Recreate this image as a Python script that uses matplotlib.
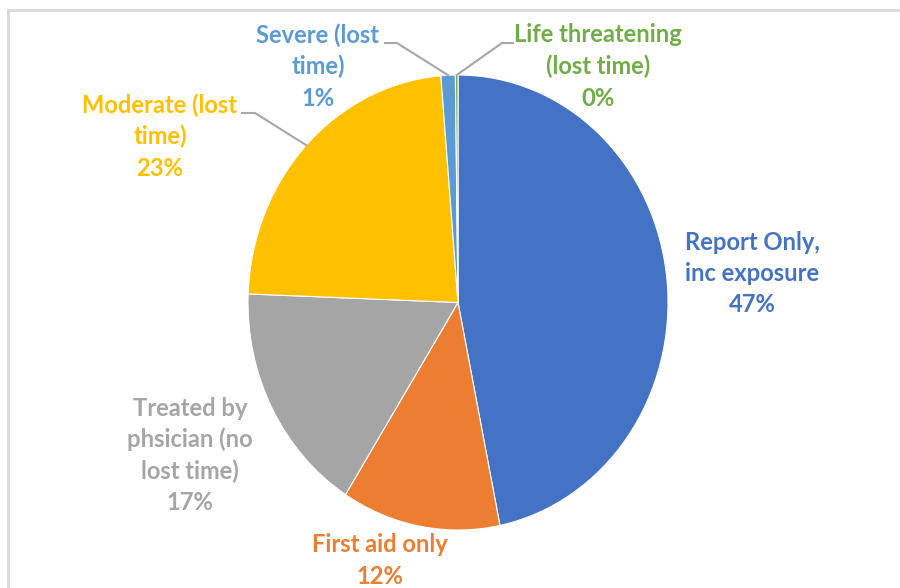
import numpy as np
import matplotlib
matplotlib.use('Agg')
import matplotlib.pyplot as plt
from matplotlib.lines import Line2D
from matplotlib.textpath import TextPath
from matplotlib.font_manager import FontProperties

plt.rcParams['font.family'] = ['Lato', 'DejaVu Sans']

# slice data (clockwise from 12 o'clock)
labels = ['Report Only,\ninc exposure', 'First aid only', 'Treated by\nphsician (no\nlost time)',
          'Moderate (lost\ntime)', 'Severe (lost\ntime)', 'Life threatening\n(lost time)']
shares = [46.8, 12.2, 16.6, 23.1, 1.1, 0.2]
colors = ['#4472C4', '#ED7D31', '#A5A5A5', '#FFC000', '#5B9BD5', '#70AD47']

# label centres in pixels (x, y of first line) and leader elbows
label_pos = [(752, 242), (380, 545), (190, 408), (160, 105), (318, 35), (598, 35)]
leaders = {3: [(242, 113), (255, 113)], 4: [(385, 43), (397, 43)], 5: [(513, 43), (502, 43)]}

W, H = 900, 588
fig = plt.figure(figsize=(9, 5.88), dpi=100)
fig.patch.set_facecolor('white')

# pick a font size so "Moderate (lost" is ~152 px wide like the original
fp = FontProperties(family='Lato', weight='bold', size=10)
w10 = TextPath((0, 0), 'Moderate (lost', prop=fp).get_extents().width * 100 / 72
fsize = 10 * 154 / w10

# chart frame
fig.add_artist(Line2D([8 / W, 1], [1 - 10 / H, 1 - 10 / H], color='#D9D9D9', lw=2))
fig.add_artist(Line2D([8 / W, 8 / W], [0, 1 - 10 / H], color='#D9D9D9', lw=2))

ax = fig.add_axes([248 / W, 1 - 530 / H, 420 / W, 455 / H])
wedges, _ = ax.pie(shares, colors=colors, startangle=90, counterclock=False,
                   wedgeprops=dict(edgecolor='white', linewidth=0.8))
ax.set_aspect('auto')
ax.set_xlim(-1, 1)
ax.set_ylim(-1, 1)
ax.axis('off')

total = sum(shares)
cum = np.cumsum([0] + shares)
lh = 31.5
for i, (lab, val) in enumerate(zip(labels, shares)):
    x, y = label_pos[i]
    lines = lab.split('\n') + ['%d%%' % round(val / total * 100)]
    for k, line in enumerate(lines):
        fig.text(x / W, 1 - (y + k * lh) / H, line, ha='center', va='center',
                 color=colors[i], fontsize=fsize, fontweight='bold')
    if i in leaders:
        mid = (cum[i] + cum[i + 1]) / 2 / total * 2 * np.pi
        tip = ax.transData.transform((np.sin(mid), np.cos(mid)))
        tip = fig.transFigure.inverted().transform(tip)
        pts = [(px / W, 1 - py / H) for px, py in leaders[i]] + [tuple(tip)]
        fig.add_artist(Line2D([p[0] for p in pts], [p[1] for p in pts], color='#A6A6A6', lw=1.5))

fig.savefig('out.png', dpi=100, facecolor='white')
